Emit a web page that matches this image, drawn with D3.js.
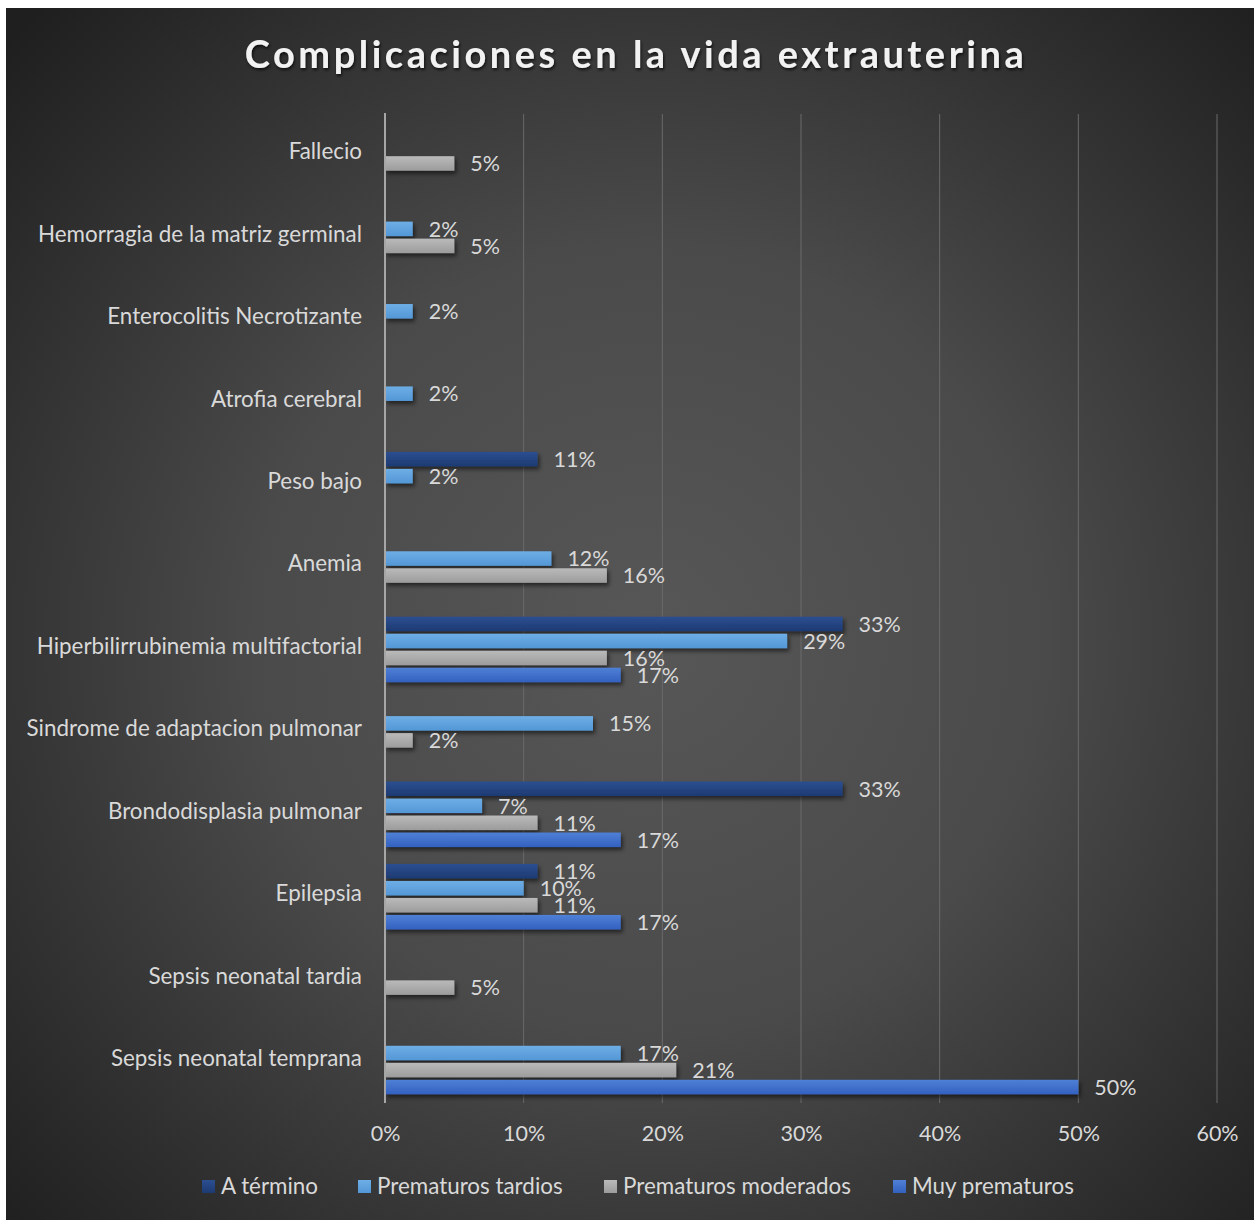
<!DOCTYPE html>
<html>
<head>
<meta charset="utf-8">
<script src="https://cdn.jsdelivr.net/npm/d3@7"></script>
<style>
  body { margin: 0; background: #fff; }
  svg text { font-family: Lato, "Open Sans", sans-serif; }
</style>
</head>
<body>
<div id="chart"></div>
<script>
var categories = [
  "Fallecio",
  "Hemorragia de la matriz germinal",
  "Enterocolitis Necrotizante",
  "Atrofia cerebral",
  "Peso bajo",
  "Anemia",
  "Hiperbilirrubinemia multifactorial",
  "Sindrome de adaptacion pulmonar",
  "Brondodisplasia pulmonar",
  "Epilepsia",
  "Sepsis neonatal tardia",
  "Sepsis neonatal temprana"
];

var series_names = ["A término", "Prematuros tardios", "Prematuros moderados", "Muy prematuros"];

var a_termino = [null, null, null, null, 11, null, 33, null, 33, 11, null, null];
var prem_tardios = [null, 2, 2, 2, 2, 12, 29, 15, 7, 10, null, 17];
var prem_moderados = [5, 5, null, null, null, 16, 16, 2, 11, 11, 5, 21];
var muy_prematuros = [null, null, null, null, null, null, 17, null, 17, 17, null, 50];

var tick_values = [0, 10, 20, 30, 40, 50, 60];

var series_values = [a_termino, prem_tardios, prem_moderados, muy_prematuros];
var colors = [
  ["#2c4f91", "#1d3a72"],
  ["#6eaee6", "#5397d6"],
  ["#bababa", "#9c9c9c"],
  ["#4f80d6", "#3361c0"]
];

var width = 1254, height = 1220;

var svg = d3.select("#chart").append("svg")
    .attr("width", width)
    .attr("height", height);

var defs = svg.append("defs");

var bg = defs.append("radialGradient")
    .attr("id", "bg")
    .attr("gradientUnits", "userSpaceOnUse")
    .attr("cx", 650).attr("cy", 640).attr("r", 880);
bg.append("stop").attr("offset", "0%").attr("stop-color", "#575757");
bg.append("stop").attr("offset", "45%").attr("stop-color", "#4a4a4a");
bg.append("stop").attr("offset", "100%").attr("stop-color", "#1f1f1f");

colors.forEach(function(c, i){
  var g = defs.append("linearGradient")
      .attr("id", "bar" + i)
      .attr("x1", 0).attr("y1", 0).attr("x2", 0).attr("y2", 1);
  g.append("stop").attr("offset", "0%").attr("stop-color", c[0]);
  g.append("stop").attr("offset", "100%").attr("stop-color", c[1]);
});

var shadow = defs.append("filter").attr("id", "shadow")
    .attr("x", "-10%").attr("y", "-50%").attr("width", "130%").attr("height", "250%");
shadow.append("feDropShadow")
    .attr("dx", 2).attr("dy", 3).attr("stdDeviation", 2)
    .attr("flood-color", "#000").attr("flood-opacity", 0.55);

var tshadow = defs.append("filter").attr("id", "tshadow")
    .attr("x", "-10%").attr("y", "-50%").attr("width", "120%").attr("height", "200%");
tshadow.append("feDropShadow")
    .attr("dx", 1).attr("dy", 2).attr("stdDeviation", 1.5)
    .attr("flood-color", "#000").attr("flood-opacity", 0.7);

svg.append("rect")
    .attr("x", 6).attr("y", 8)
    .attr("width", 1248).attr("height", 1212)
    .attr("fill", "url(#bg)");

// scales
var x = d3.scaleLinear().domain([0, 60]).range([385, 1217]);
var y0 = d3.scaleBand().domain(categories).range([114, 1103]);
var y1 = d3.scaleBand().domain(series_names).range([7.2, 75.2]);

// gridlines
svg.selectAll(".grid")
    .data(tick_values.slice(1))
  .enter().append("line")
    .attr("class", "grid")
    .attr("x1", function(d){ return x(d); })
    .attr("x2", function(d){ return x(d); })
    .attr("y1", 114).attr("y2", 1103)
    .attr("stroke", "#6a6a6a")
    .attr("stroke-width", 1);

// x axis labels
var xAxis = d3.axisBottom(x)
    .tickValues(tick_values)
    .tickSize(0)
    .tickPadding(0)
    .tickFormat(function(d){ return d + "%"; });

var xg = svg.append("g")
    .attr("transform", "translate(0,1133)")
    .call(xAxis);
xg.select(".domain").remove();
xg.selectAll("text")
    .attr("dy", "0.35em")
    .attr("fill", "#d9d9d9")
    .style("font-size", "21.5px");

// y axis labels
var yAxis = d3.axisLeft(y0).tickSize(0).tickPadding(0);
var yg = svg.append("g")
    .attr("transform", "translate(362,-3)")
    .call(yAxis);
yg.select(".domain").remove();
yg.selectAll("text")
    .attr("fill", "#d9d9d9")
    .style("font-size", "22.4px");

// bars
var flat = [];
series_values.forEach(function(vals, si){
  vals.forEach(function(v, ci){
    if (v != null) flat.push({s: si, name: series_names[si], cat: categories[ci], value: v});
  });
});

var bars = svg.append("g");
bars.selectAll("rect")
    .data(flat)
  .enter().append("rect")
    .attr("x", x(0))
    .attr("y", function(d){ return y0(d.cat) + y1(d.name) + 1; })
    .attr("width", function(d){ return x(d.value) - x(0); })
    .attr("height", 14.5)
    .attr("fill", function(d){ return "url(#bar" + d.s + ")"; })
    .attr("filter", "url(#shadow)");

svg.append("g").selectAll("text")
    .data(flat)
  .enter().append("text")
    .attr("x", function(d){ return x(d.value) + 16; })
    .attr("y", function(d){ return y0(d.cat) + y1(d.name) + 8.5; })
    .attr("dy", "0.35em")
    .attr("fill", "#d9d9d9")
    .style("font-size", "21.5px")
    .text(function(d){ return d.value + "%"; });

// vertical axis line
svg.append("line")
    .attr("x1", x(0)).attr("x2", x(0))
    .attr("y1", 113).attr("y2", 1103)
    .attr("stroke", "#a6a6a6")
    .attr("stroke-width", 2);

// title
svg.append("text")
    .attr("x", 636).attr("y", 55)
    .attr("text-anchor", "middle")
    .attr("dy", "0.35em")
    .attr("fill", "#f2f2f2")
    .attr("filter", "url(#tshadow)")
    .style("font-size", "38px")
    .style("font-weight", "bold")
    .style("letter-spacing", "3.5px")
    .text("Complicaciones en la vida extrauterina");

// legend
var legend_x = [202, 358, 604, 893];
var legend = svg.selectAll(".legend")
    .data(series_names)
  .enter().append("g")
    .attr("class", "legend")
    .attr("transform", function(d, i){ return "translate(" + legend_x[i] + ",1180)"; });

legend.append("rect")
    .attr("width", 13).attr("height", 13)
    .attr("fill", function(d, i){ return "url(#bar" + i + ")"; });

legend.append("text")
    .attr("x", 19).attr("y", 6.5)
    .attr("dy", "0.35em")
    .attr("fill", "#d9d9d9")
    .style("font-size", "22.4px")
    .text(function(d){ return d; });
</script>
</body>
</html>
